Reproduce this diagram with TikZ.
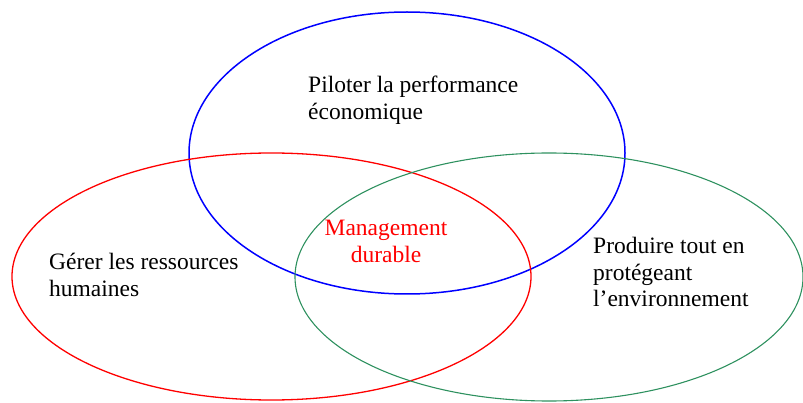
\documentclass[tikz,border=0pt]{standalone}
\usepackage{fontspec}
\setmainfont{Liberation Serif}
\usepackage{tikz}

\definecolor{vertdurable}{RGB}{46,145,95}

\begin{document}
\begin{tikzpicture}[x=1pt, y=-1pt,
    domaine/.style ={align=left, inner sep=0pt, anchor=base west,
      font=\fontsize{23.5}{27}\selectfont}]
   \useasboundingbox (0,0) rectangle (803,403);
   \draw[blue, line width=1.5pt] (407,153) ellipse [x radius=218, y radius=141];
   \draw[red, line width=1.3pt] (271.5,276.5) ellipse [x radius=259.5, y radius=123.5];
   \draw[vertdurable, line width=1.1pt] (549,277) ellipse [x radius=254, y radius=124];
   \node[domaine] (P) at (308,120) {Piloter la performance\\économique};
   \node[domaine] (G) at (49,297) {Gérer les ressources\\humaines};
   \node[domaine] (E) at (593,307) {Produire tout en\\protégeant\\l’environnement};
   \node[domaine, align=center, anchor=base, red] (M) at (386,263) {Management\\durable};
 \end{tikzpicture}
\end{document}
